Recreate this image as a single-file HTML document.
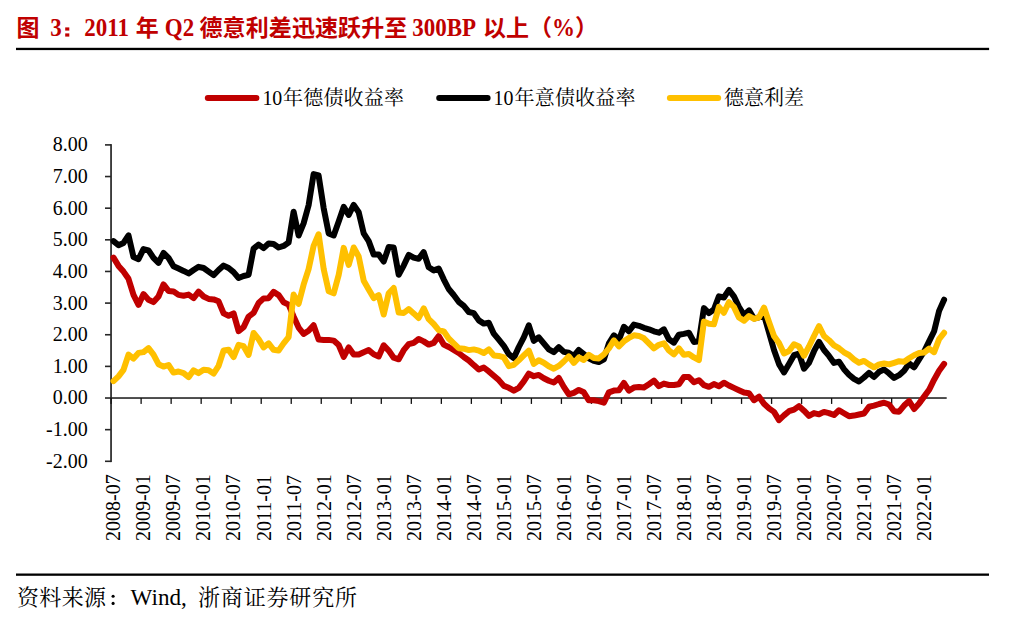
<!DOCTYPE html>
<html><head><meta charset="utf-8"><title>chart</title>
<style>
html,body{margin:0;padding:0;background:#fff;}
svg{display:block;font-family:"Liberation Serif",serif;}
</style></head><body>
<svg width="1009" height="621" viewBox="0 0 1009 621">
<rect width="1009" height="621" fill="#fff"/>
<text x="16.5" y="36" font-size="23px" font-weight="bold" fill="#c00000" font-family="'Liberation Serif','Noto Sans CJK SC',sans-serif">图</text>
<text transform="translate(50.20,36.00) scale(1,1.07)" font-size="23.00px" font-weight="bold" fill="#c00000">3</text>
<rect x="65.2" y="27.4" width="4.1" height="3.2" fill="#c00000"/><rect x="65.2" y="33.4" width="4.1" height="3.2" fill="#c00000"/>
<text transform="translate(84.30,36.00) scale(1,1.07)" font-size="23.00px" font-weight="bold" fill="#c00000">2011</text>
<text x="135.8" y="36" font-size="23px" font-weight="bold" fill="#c00000" font-family="'Liberation Serif','Noto Sans CJK SC',sans-serif">年</text>
<text transform="translate(164.80,36.00) scale(1,1.07)" font-size="23.00px" font-weight="bold" fill="#c00000">Q2</text>
<text x="199.5" y="36" font-size="23px" font-weight="bold" fill="#c00000" textLength="207.8" lengthAdjust="spacing" font-family="'Liberation Serif','Noto Sans CJK SC',sans-serif">德意利差迅速跃升至</text>
<text transform="translate(412.20,36.00) scale(1,1.07)" font-size="23.00px" font-weight="bold" fill="#c00000">300BP</text>
<text x="483" y="36" font-size="23px" font-weight="bold" fill="#c00000" textLength="69" lengthAdjust="spacing" font-family="'Liberation Serif','Noto Sans CJK SC',sans-serif">以上（</text>
<text transform="translate(552.00,36.00) scale(1,1.07)" font-size="23.00px" font-weight="bold" fill="#c00000">%</text>
<text x="575" y="36" font-size="23px" font-weight="bold" fill="#c00000" font-family="'Liberation Serif','Noto Sans CJK SC',sans-serif">）</text>
<rect x="16" y="47.8" width="973.1" height="2.3" fill="#000"/>
<rect x="16" y="573.5" width="973" height="2.3" fill="#000"/>
<text x="17" y="604.7" font-size="22px" fill="#000" textLength="89" lengthAdjust="spacing" font-family="'Liberation Serif','Noto Serif CJK SC',serif">资料来源</text>
<circle cx="113.1" cy="596.2" r="1.55" fill="#000"/><circle cx="113.1" cy="603.4" r="1.55" fill="#000"/>
<text transform="translate(130.6,604.70) scale(1,1.03)" font-size="23.1px" fill="#000">Wind,</text>
<text x="198" y="604.7" font-size="22px" fill="#000" textLength="159" lengthAdjust="spacing" font-family="'Liberation Serif','Noto Serif CJK SC',serif">浙商证券研究所</text>
<line x1="207.8" y1="97.9" x2="256.4" y2="97.9" stroke="#c00000" stroke-width="6" stroke-linecap="round"/>
<text transform="translate(262.40,105.30) scale(1,1.08)" font-size="19.9px" fill="#000">10</text>
<text x="283" y="105.3" font-size="20px" fill="#000" textLength="121" lengthAdjust="spacing" font-family="'Liberation Serif','Noto Serif CJK SC',serif">年德债收益率</text>
<line x1="439.2" y1="97.9" x2="487.6" y2="97.9" stroke="#000" stroke-width="6" stroke-linecap="round"/>
<text transform="translate(493.50,105.30) scale(1,1.08)" font-size="19.9px" fill="#000">10</text>
<text x="514.5" y="105.3" font-size="20px" fill="#000" textLength="121" lengthAdjust="spacing" font-family="'Liberation Serif','Noto Serif CJK SC',serif">年意债收益率</text>
<line x1="669.9" y1="97.9" x2="718.2" y2="97.9" stroke="#ffc000" stroke-width="6" stroke-linecap="round"/>
<text x="724" y="105.3" font-size="20px" fill="#000" textLength="80" lengthAdjust="spacing" font-family="'Liberation Serif','Noto Serif CJK SC',serif">德意利差</text>
<rect x="110.2" y="144.1" width="1.7" height="318.0" fill="#262626"/>
<rect x="105.0" y="460.50" width="6" height="1.6" fill="#262626"/>
<text transform="translate(87.7,467.70) scale(1,1.07)" font-size="20px" fill="#000" text-anchor="end">-2.00</text>
<rect x="105.0" y="428.86" width="6" height="1.6" fill="#262626"/>
<text transform="translate(87.7,436.06) scale(1,1.07)" font-size="20px" fill="#000" text-anchor="end">-1.00</text>
<rect x="105.0" y="397.22" width="6" height="1.6" fill="#262626"/>
<text transform="translate(87.7,404.42) scale(1,1.07)" font-size="20px" fill="#000" text-anchor="end">0.00</text>
<rect x="105.0" y="365.58" width="6" height="1.6" fill="#262626"/>
<text transform="translate(87.7,372.78) scale(1,1.07)" font-size="20px" fill="#000" text-anchor="end">1.00</text>
<rect x="105.0" y="333.94" width="6" height="1.6" fill="#262626"/>
<text transform="translate(87.7,341.14) scale(1,1.07)" font-size="20px" fill="#000" text-anchor="end">2.00</text>
<rect x="105.0" y="302.30" width="6" height="1.6" fill="#262626"/>
<text transform="translate(87.7,309.50) scale(1,1.07)" font-size="20px" fill="#000" text-anchor="end">3.00</text>
<rect x="105.0" y="270.66" width="6" height="1.6" fill="#262626"/>
<text transform="translate(87.7,277.86) scale(1,1.07)" font-size="20px" fill="#000" text-anchor="end">4.00</text>
<rect x="105.0" y="239.02" width="6" height="1.6" fill="#262626"/>
<text transform="translate(87.7,246.22) scale(1,1.07)" font-size="20px" fill="#000" text-anchor="end">5.00</text>
<rect x="105.0" y="207.38" width="6" height="1.6" fill="#262626"/>
<text transform="translate(87.7,214.58) scale(1,1.07)" font-size="20px" fill="#000" text-anchor="end">6.00</text>
<rect x="105.0" y="175.74" width="6" height="1.6" fill="#262626"/>
<text transform="translate(87.7,182.94) scale(1,1.07)" font-size="20px" fill="#000" text-anchor="end">7.00</text>
<rect x="105.0" y="144.10" width="6" height="1.6" fill="#262626"/>
<text transform="translate(87.7,151.30) scale(1,1.07)" font-size="20px" fill="#000" text-anchor="end">8.00</text>
<rect x="110.2" y="397.22" width="836.5" height="1.6" fill="#262626"/>
<rect x="110.45" y="398.02" width="1.3" height="5.9" fill="#111"/>
<rect x="140.47" y="398.02" width="1.3" height="5.9" fill="#111"/>
<rect x="170.49" y="398.02" width="1.3" height="5.9" fill="#111"/>
<rect x="200.51" y="398.02" width="1.3" height="5.9" fill="#111"/>
<rect x="230.54" y="398.02" width="1.3" height="5.9" fill="#111"/>
<rect x="260.56" y="398.02" width="1.3" height="5.9" fill="#111"/>
<rect x="290.58" y="398.02" width="1.3" height="5.9" fill="#111"/>
<rect x="320.60" y="398.02" width="1.3" height="5.9" fill="#111"/>
<rect x="350.62" y="398.02" width="1.3" height="5.9" fill="#111"/>
<rect x="380.64" y="398.02" width="1.3" height="5.9" fill="#111"/>
<rect x="410.67" y="398.02" width="1.3" height="5.9" fill="#111"/>
<rect x="440.69" y="398.02" width="1.3" height="5.9" fill="#111"/>
<rect x="470.71" y="398.02" width="1.3" height="5.9" fill="#111"/>
<rect x="500.73" y="398.02" width="1.3" height="5.9" fill="#111"/>
<rect x="530.75" y="398.02" width="1.3" height="5.9" fill="#111"/>
<rect x="560.77" y="398.02" width="1.3" height="5.9" fill="#111"/>
<rect x="590.80" y="398.02" width="1.3" height="5.9" fill="#111"/>
<rect x="620.82" y="398.02" width="1.3" height="5.9" fill="#111"/>
<rect x="650.84" y="398.02" width="1.3" height="5.9" fill="#111"/>
<rect x="680.86" y="398.02" width="1.3" height="5.9" fill="#111"/>
<rect x="710.88" y="398.02" width="1.3" height="5.9" fill="#111"/>
<rect x="740.90" y="398.02" width="1.3" height="5.9" fill="#111"/>
<rect x="770.93" y="398.02" width="1.3" height="5.9" fill="#111"/>
<rect x="800.95" y="398.02" width="1.3" height="5.9" fill="#111"/>
<rect x="830.97" y="398.02" width="1.3" height="5.9" fill="#111"/>
<rect x="860.99" y="398.02" width="1.3" height="5.9" fill="#111"/>
<rect x="891.01" y="398.02" width="1.3" height="5.9" fill="#111"/>
<rect x="921.03" y="398.02" width="1.3" height="5.9" fill="#111"/>
<text transform="translate(120.40,541.00) rotate(-90) scale(1,1.05)" font-size="20px" fill="#000">2008-07</text>
<text transform="translate(150.42,541.00) rotate(-90) scale(1,1.05)" font-size="20px" fill="#000">2009-01</text>
<text transform="translate(180.44,541.00) rotate(-90) scale(1,1.05)" font-size="20px" fill="#000">2009-07</text>
<text transform="translate(210.46,541.00) rotate(-90) scale(1,1.05)" font-size="20px" fill="#000">2010-01</text>
<text transform="translate(240.49,541.00) rotate(-90) scale(1,1.05)" font-size="20px" fill="#000">2010-07</text>
<text transform="translate(270.51,541.00) rotate(-90) scale(1,1.05)" font-size="20px" fill="#000">2011-01</text>
<text transform="translate(300.53,541.00) rotate(-90) scale(1,1.05)" font-size="20px" fill="#000">2011-07</text>
<text transform="translate(330.55,541.00) rotate(-90) scale(1,1.05)" font-size="20px" fill="#000">2012-01</text>
<text transform="translate(360.57,541.00) rotate(-90) scale(1,1.05)" font-size="20px" fill="#000">2012-07</text>
<text transform="translate(390.59,541.00) rotate(-90) scale(1,1.05)" font-size="20px" fill="#000">2013-01</text>
<text transform="translate(420.62,541.00) rotate(-90) scale(1,1.05)" font-size="20px" fill="#000">2013-07</text>
<text transform="translate(450.64,541.00) rotate(-90) scale(1,1.05)" font-size="20px" fill="#000">2014-01</text>
<text transform="translate(480.66,541.00) rotate(-90) scale(1,1.05)" font-size="20px" fill="#000">2014-07</text>
<text transform="translate(510.68,541.00) rotate(-90) scale(1,1.05)" font-size="20px" fill="#000">2015-01</text>
<text transform="translate(540.70,541.00) rotate(-90) scale(1,1.05)" font-size="20px" fill="#000">2015-07</text>
<text transform="translate(570.72,541.00) rotate(-90) scale(1,1.05)" font-size="20px" fill="#000">2016-01</text>
<text transform="translate(600.75,541.00) rotate(-90) scale(1,1.05)" font-size="20px" fill="#000">2016-07</text>
<text transform="translate(630.77,541.00) rotate(-90) scale(1,1.05)" font-size="20px" fill="#000">2017-01</text>
<text transform="translate(660.79,541.00) rotate(-90) scale(1,1.05)" font-size="20px" fill="#000">2017-07</text>
<text transform="translate(690.81,541.00) rotate(-90) scale(1,1.05)" font-size="20px" fill="#000">2018-01</text>
<text transform="translate(720.83,541.00) rotate(-90) scale(1,1.05)" font-size="20px" fill="#000">2018-07</text>
<text transform="translate(750.85,541.00) rotate(-90) scale(1,1.05)" font-size="20px" fill="#000">2019-01</text>
<text transform="translate(780.88,541.00) rotate(-90) scale(1,1.05)" font-size="20px" fill="#000">2019-07</text>
<text transform="translate(810.90,541.00) rotate(-90) scale(1,1.05)" font-size="20px" fill="#000">2020-01</text>
<text transform="translate(840.92,541.00) rotate(-90) scale(1,1.05)" font-size="20px" fill="#000">2020-07</text>
<text transform="translate(870.94,541.00) rotate(-90) scale(1,1.05)" font-size="20px" fill="#000">2021-01</text>
<text transform="translate(900.96,541.00) rotate(-90) scale(1,1.05)" font-size="20px" fill="#000">2021-07</text>
<text transform="translate(930.98,541.00) rotate(-90) scale(1,1.05)" font-size="20px" fill="#000">2022-01</text>
<polyline fill="none" stroke="#c00000" stroke-width="6" stroke-linejoin="round" stroke-linecap="round" points="113.5,257.6 118.5,265.9 123.5,271.6 128.5,278.8 133.5,294.9 138.5,304.9 143.5,294.1 148.5,299.7 153.5,302.1 158.5,296.5 163.5,284.4 168.5,290.9 173.5,291.4 178.5,294.9 183.6,295.7 188.6,294.6 193.6,298.1 198.6,291.7 203.6,296.5 208.6,298.9 213.6,299.4 218.6,301.3 223.6,313.4 228.6,315.8 233.6,313.4 238.6,331.1 243.6,327.1 248.6,316.6 253.6,312.9 258.6,303.0 263.6,298.4 268.6,298.2 273.6,291.9 278.6,295.1 283.6,302.2 288.6,304.6 293.6,316.5 298.6,327.6 303.6,333.9 308.6,330.7 313.6,325.2 318.6,339.5 323.7,339.9 328.7,339.9 333.7,340.6 338.7,345.0 343.7,356.9 348.7,347.4 353.7,354.5 358.7,354.5 363.7,352.2 368.7,350.1 373.7,354.2 378.7,356.4 383.7,345.3 388.7,350.6 393.7,357.7 398.7,359.3 403.7,350.2 408.7,344.2 413.7,342.8 418.7,339.0 423.7,341.4 428.7,344.6 433.7,342.9 438.7,336.1 443.7,344.6 448.7,347.0 453.7,349.9 458.7,353.0 463.8,357.0 468.8,360.5 473.8,365.1 478.8,369.5 483.8,367.5 488.8,371.4 493.8,375.7 498.8,380.1 503.8,385.9 508.8,387.8 513.8,390.7 518.8,387.8 523.8,381.4 528.8,373.7 533.8,376.2 538.8,374.9 543.8,378.2 548.8,380.7 553.8,382.5 558.8,378.0 563.8,386.9 568.8,394.3 573.8,392.8 578.8,389.9 583.8,392.3 588.8,400.3 593.8,400.3 598.8,401.1 603.9,402.7 608.9,392.3 613.9,390.6 618.9,390.2 623.9,383.0 628.9,390.6 633.9,387.6 638.9,387.0 643.9,387.6 648.9,384.2 653.9,380.6 658.9,386.2 663.9,383.6 668.9,385.0 673.9,385.0 678.9,384.2 683.9,377.0 688.9,377.0 693.9,382.2 698.9,380.2 703.9,385.2 708.9,386.8 713.9,384.1 718.9,386.2 723.9,382.7 728.9,385.5 733.9,387.9 738.9,390.2 744.0,392.5 749.0,393.2 754.0,400.2 759.0,396.7 764.0,403.7 769.0,408.4 774.0,411.9 779.0,420.1 784.0,415.4 789.0,411.2 794.0,409.6 799.0,406.1 804.0,410.7 809.0,415.9 814.0,413.1 819.0,414.3 824.0,411.9 829.0,413.1 834.0,415.0 839.0,410.3 844.0,413.3 849.0,416.2 854.0,415.6 859.0,414.5 864.0,413.5 869.0,406.7 874.0,405.6 879.1,404.0 884.1,402.7 889.1,404.5 894.1,411.2 899.1,411.7 904.1,405.6 909.1,401.1 914.1,409.0 919.1,403.4 924.1,396.6 929.1,389.8 934.1,379.7 939.1,370.7 944.1,363.9"/>
<polyline fill="none" stroke="#000000" stroke-width="6" stroke-linejoin="round" stroke-linecap="round" points="113.5,241.1 118.5,245.2 123.5,242.9 128.5,235.3 133.5,257.1 138.5,259.2 143.5,249.1 148.5,250.3 153.5,257.9 158.5,262.9 163.5,253.0 168.5,257.9 173.5,266.3 178.5,268.6 183.6,270.9 188.6,273.4 193.6,270.0 198.6,266.8 203.6,268.0 208.6,271.6 213.6,275.1 218.6,270.0 223.6,265.6 228.6,268.0 233.6,272.1 238.6,278.0 243.6,276.0 248.6,274.8 253.6,248.6 258.6,244.6 263.6,248.1 268.6,243.5 273.6,244.1 278.6,247.5 283.6,245.9 288.6,242.5 293.6,211.7 298.6,235.5 303.6,223.4 308.6,205.3 313.6,174.1 318.6,175.5 323.7,208.3 328.7,233.4 333.7,235.5 338.7,221.4 343.7,206.9 348.7,214.9 353.7,204.9 358.7,212.3 363.7,233.4 368.7,241.1 373.7,254.6 378.7,254.6 383.7,261.6 388.7,247.1 393.7,247.5 398.7,274.7 403.7,265.6 408.7,254.9 413.7,257.6 418.7,258.8 423.7,252.1 428.7,267.3 433.7,270.4 438.7,268.5 443.7,279.3 448.7,289.0 453.7,295.0 458.7,301.8 463.8,305.9 468.8,312.0 473.8,313.2 478.8,320.4 483.8,323.6 488.8,322.8 493.8,333.7 498.8,339.7 503.8,345.8 508.8,354.2 513.8,358.1 518.8,347.0 523.8,337.3 528.8,325.3 533.8,340.9 538.8,337.3 543.8,343.4 548.8,349.4 553.8,352.1 558.8,347.2 563.8,351.9 568.8,352.8 573.8,356.0 578.8,350.0 583.8,354.0 588.8,358.4 593.8,360.9 598.8,362.1 603.9,359.4 608.9,343.3 613.9,335.3 618.9,339.9 623.9,326.8 628.9,331.3 633.9,324.6 638.9,325.8 643.9,327.8 648.9,329.3 653.9,331.3 658.9,332.7 663.9,329.3 668.9,339.3 673.9,342.7 678.9,334.7 683.9,333.9 688.9,332.7 693.9,341.9 698.9,341.3 703.9,308.1 708.9,313.2 713.9,309.5 718.9,296.3 723.9,297.5 728.9,289.8 733.9,296.3 738.9,306.9 744.0,315.0 749.0,310.4 754.0,318.5 759.0,317.4 764.0,315.0 769.0,332.5 774.0,350.0 779.0,364.1 784.0,372.4 789.0,363.9 794.0,355.2 799.0,353.5 804.0,368.7 809.0,362.9 814.0,351.2 819.0,341.9 824.0,350.0 829.0,355.9 834.0,362.9 839.0,361.7 844.0,369.2 849.0,374.7 854.0,378.9 859.0,381.5 864.0,377.5 869.0,372.9 874.0,377.0 879.1,371.8 884.1,369.5 889.1,373.4 894.1,377.9 899.1,375.2 904.1,370.7 909.1,363.5 914.1,367.3 919.1,359.4 924.1,351.5 929.1,341.4 934.1,331.2 939.1,310.9 944.1,299.7"/>
<polyline fill="none" stroke="#ffc000" stroke-width="6" stroke-linejoin="round" stroke-linecap="round" points="113.5,381.1 118.5,376.3 123.5,369.8 128.5,354.6 133.5,358.6 138.5,352.9 143.5,352.1 148.5,348.1 153.5,354.6 158.5,364.2 163.5,366.6 168.5,365.0 173.5,372.6 178.5,371.5 183.6,373.1 188.6,377.1 193.6,370.3 198.6,373.1 203.6,369.8 208.6,370.3 213.6,373.6 218.6,365.8 223.6,350.5 228.6,349.7 233.6,357.0 238.6,344.9 243.6,346.2 248.6,354.9 253.6,333.0 258.6,339.1 263.6,347.4 268.6,343.4 273.6,349.8 278.6,350.6 283.6,343.4 288.6,337.1 293.6,294.6 298.6,303.8 303.6,284.7 308.6,269.1 313.6,245.9 318.6,234.3 323.7,269.1 328.7,291.3 333.7,293.3 338.7,274.9 343.7,247.9 348.7,264.9 353.7,247.5 358.7,256.5 363.7,280.7 368.7,289.4 373.7,298.1 378.7,295.2 383.7,314.5 388.7,293.3 393.7,288.0 398.7,312.6 403.7,313.0 408.7,309.1 413.7,313.4 418.7,318.0 423.7,308.3 428.7,319.2 433.7,324.0 438.7,330.1 443.7,331.3 448.7,338.5 453.7,343.4 458.7,348.2 463.8,348.7 468.8,350.1 473.8,349.4 478.8,350.6 483.8,353.0 488.8,349.4 493.8,355.4 498.8,355.9 503.8,357.4 508.8,366.1 513.8,364.9 518.8,360.3 523.8,355.4 528.8,350.6 533.8,363.9 538.8,360.3 543.8,362.7 548.8,366.3 553.8,368.7 558.8,365.9 563.8,361.5 568.8,356.4 573.8,362.9 578.8,357.4 583.8,360.0 588.8,354.8 593.8,358.0 598.8,358.4 603.9,354.4 608.9,348.4 613.9,340.3 618.9,346.4 623.9,341.3 628.9,337.9 633.9,335.3 638.9,335.9 643.9,338.3 648.9,343.3 653.9,348.4 658.9,344.8 663.9,343.3 668.9,350.4 673.9,354.4 678.9,348.4 683.9,354.8 688.9,354.0 693.9,357.4 698.9,360.0 703.9,321.6 708.9,323.8 713.9,324.3 718.9,306.9 723.9,312.7 728.9,302.2 733.9,306.9 738.9,317.5 744.0,320.7 749.0,316.0 754.0,318.9 759.0,317.4 764.0,307.6 769.0,322.0 774.0,336.0 779.0,343.0 784.0,353.5 789.0,351.0 794.0,344.2 799.0,346.5 804.0,355.7 809.0,346.5 814.0,336.0 819.0,326.2 824.0,336.0 829.0,340.2 834.0,345.4 839.0,348.2 844.0,352.3 849.0,355.0 854.0,359.4 859.0,362.8 864.0,360.9 869.0,364.4 874.0,367.3 879.1,364.4 884.1,363.5 889.1,364.4 894.1,362.8 899.1,361.2 904.1,361.7 909.1,358.3 914.1,355.3 919.1,353.1 924.1,352.6 929.1,348.6 934.1,352.2 939.1,339.1 944.1,332.8"/>
</svg>
</body></html>
